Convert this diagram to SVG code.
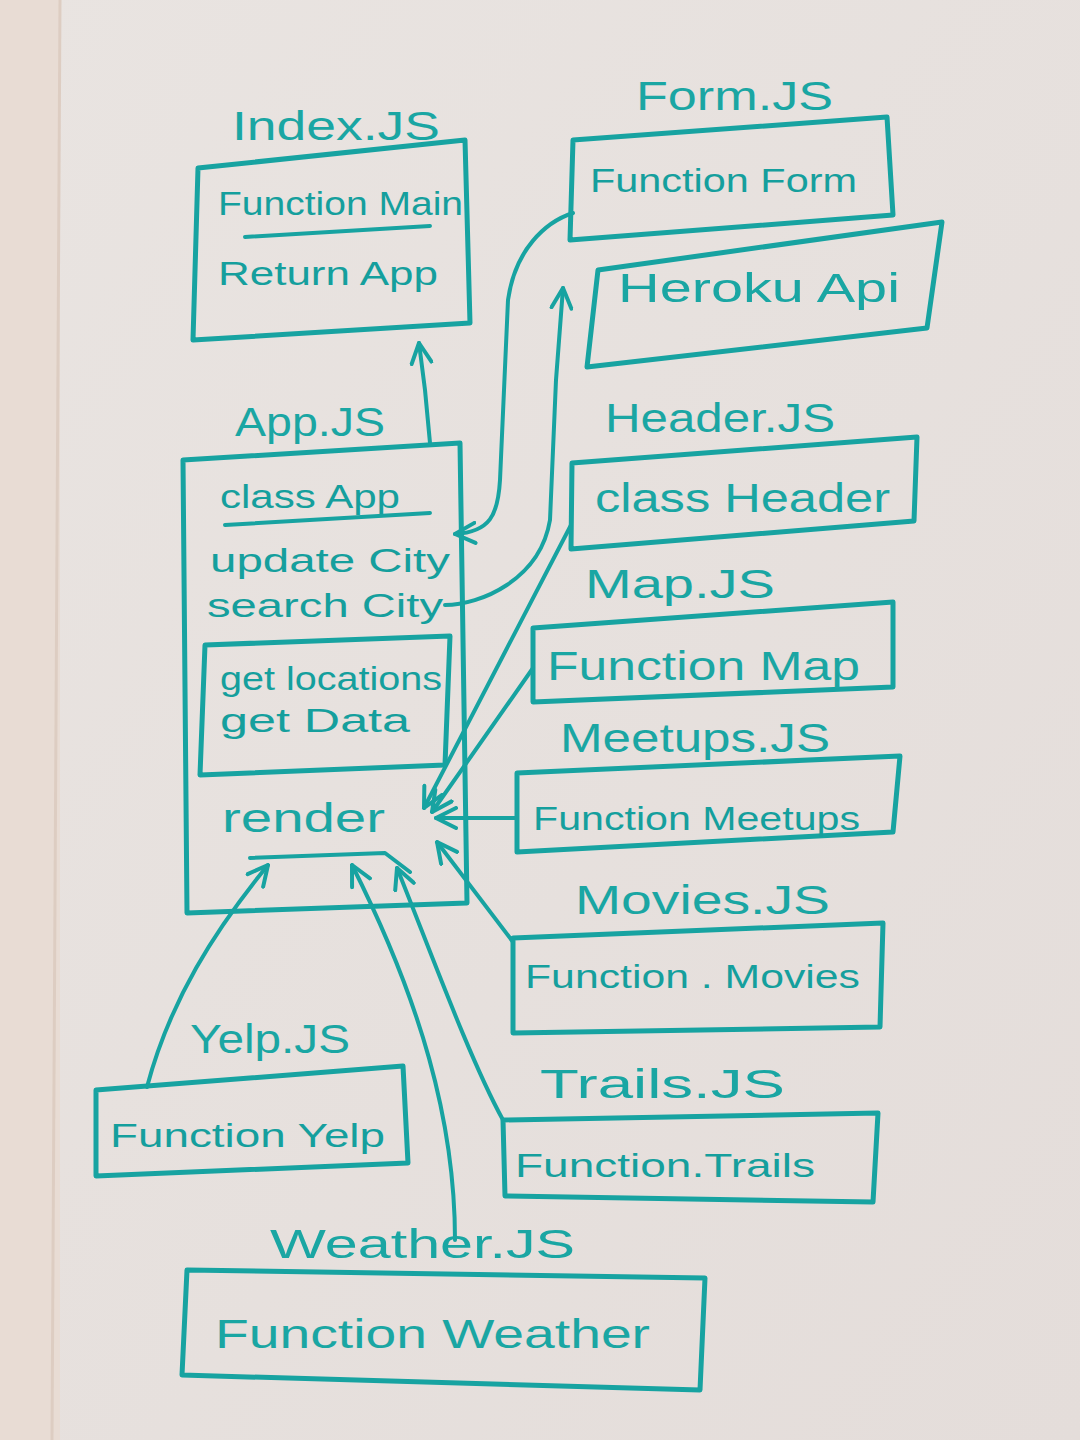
<svg xmlns="http://www.w3.org/2000/svg" width="1080" height="1440" viewBox="0 0 1080 1440">
<defs>
<marker id="arr" viewBox="0 0 12 12" refX="11" refY="6" markerWidth="24" markerHeight="24" markerUnits="userSpaceOnUse" orient="auto">
<path d="M1,1 L11,6 L1,11" fill="none" stroke="#17a3a1" stroke-width="2" stroke-linecap="round" stroke-linejoin="round"/>
</marker>
<linearGradient id="paper" x1="0" y1="0" x2="1" y2="1">
<stop offset="0" stop-color="#e9e4e1"/>
<stop offset="1" stop-color="#e4ddda"/>
</linearGradient>
</defs>
<style>
.box{fill:none;stroke:#17a3a1;stroke-width:5;stroke-linejoin:round;stroke-linecap:round}
.ln{fill:none;stroke:#17a3a1;stroke-width:4;stroke-linecap:round;stroke-linejoin:round}
.lbl{font-family:"Liberation Sans","DejaVu Sans",sans-serif;font-size:40px;fill:#1aa6a3}
.txt{font-family:"Liberation Sans","DejaVu Sans",sans-serif;font-size:34px;fill:#159f9d}
.con{fill:none;stroke:#17a3a1;stroke-width:4;stroke-linecap:round;stroke-linejoin:round;marker-end:url(#arr)}
</style>
<rect width="1080" height="1440" fill="url(#paper)"/>
<rect width="60" height="1440" fill="#e8dcd4"/>
<line x1="60" y1="0" x2="52" y2="1440" stroke="#ddcdc2" stroke-width="3"/>

<g id="connectors">
<path class="con" d="M430,443 L425,390 L419,343"/>
<path class="con" d="M573,213 C545,222 515,250 508,300 L500,480 C498,515 490,532 455,534"/>
<path class="con" d="M445,605 C480,605 540,580 550,520 L556,380 L563,288"/>
<path class="con" d="M571,525 L424,808"/>
<path class="con" d="M533,668 L432,812"/>
<path class="con" d="M517,818 L436,818"/>
<path class="con" d="M513,942 L437,842"/>
<path class="con" d="M503,1120 C470,1060 430,950 397,868"/>
<path class="con" d="M455,1240 C455,1120 420,1000 352,865"/>
<path class="con" d="M147,1087 C170,1000 215,930 268,865"/>
</g>

<g id="index">
<text class="lbl" x="232" y="140" textLength="208" lengthAdjust="spacingAndGlyphs">Index.JS</text>
<polygon class="box" points="198,168 465,140 470,323 193,340"/>
<text class="txt" x="218" y="215" textLength="245" lengthAdjust="spacingAndGlyphs">Function Main</text>
<line class="ln" x1="245" y1="237" x2="430" y2="226"/>
<text class="txt" x="218" y="285" textLength="220" lengthAdjust="spacingAndGlyphs">Return App</text>
</g>

<g id="form">
<text class="lbl" x="636" y="110" textLength="197" lengthAdjust="spacingAndGlyphs">Form.JS</text>
<polygon class="box" points="573,140 887,117 893,215 570,240"/>
<text class="txt" x="590" y="192" textLength="267" lengthAdjust="spacingAndGlyphs">Function Form</text>
</g>

<g id="heroku">
<polygon class="box" points="598,270 942,222 927,328 587,367"/>
<text class="lbl" x="618" y="302" textLength="282" lengthAdjust="spacingAndGlyphs">Heroku Api</text>
</g>

<g id="app">
<text class="lbl" x="235" y="436" textLength="150" lengthAdjust="spacingAndGlyphs">App.JS</text>
<polygon class="box" points="183,460 460,443 467,903 187,913"/>
<text class="txt" x="220" y="508" textLength="180" lengthAdjust="spacingAndGlyphs">class App</text>
<line class="ln" x1="225" y1="525" x2="430" y2="513"/>
<text class="txt" x="210" y="572" textLength="240" lengthAdjust="spacingAndGlyphs">update City</text>
<text class="txt" x="207" y="617" textLength="236" lengthAdjust="spacingAndGlyphs">search City</text>
<polygon class="box" points="205,645 450,636 445,765 200,775"/>
<text class="txt" x="220" y="690" textLength="222" lengthAdjust="spacingAndGlyphs">get locations</text>
<text class="txt" x="220" y="732" textLength="190" lengthAdjust="spacingAndGlyphs">get Data</text>
<text class="lbl" x="222" y="832" textLength="163" lengthAdjust="spacingAndGlyphs">render</text>
<polyline class="ln" points="250,858 385,853 410,872"/>
</g>

<g id="header">
<text class="lbl" x="605" y="432" textLength="230" lengthAdjust="spacingAndGlyphs">Header.JS</text>
<polygon class="box" points="572,463 917,437 914,521 571,549"/>
<text class="lbl" x="595" y="512" textLength="295" lengthAdjust="spacingAndGlyphs">class Header</text>
</g>

<g id="map">
<text class="lbl" x="585" y="598" textLength="190" lengthAdjust="spacingAndGlyphs">Map.JS</text>
<polygon class="box" points="533,628 893,602 893,687 533,702"/>
<text class="lbl" x="547" y="680" font-size="38" textLength="313" lengthAdjust="spacingAndGlyphs">Function Map</text>
</g>

<g id="meetups">
<text class="lbl" x="560" y="752" textLength="270" lengthAdjust="spacingAndGlyphs">Meetups.JS</text>
<polygon class="box" points="517,773 900,756 893,832 517,852"/>
<text class="txt" x="533" y="830" textLength="327" lengthAdjust="spacingAndGlyphs">Function Meetups</text>
</g>

<g id="movies">
<text class="lbl" x="575" y="914" textLength="255" lengthAdjust="spacingAndGlyphs">Movies.JS</text>
<polygon class="box" points="513,938 883,923 880,1027 513,1033"/>
<text class="txt" x="525" y="988" textLength="335" lengthAdjust="spacingAndGlyphs">Function . Movies</text>
</g>

<g id="trails">
<text class="lbl" x="540" y="1098" textLength="245" lengthAdjust="spacingAndGlyphs">Trails.JS</text>
<polygon class="box" points="503,1120 878,1113 873,1202 505,1196"/>
<text class="txt" x="515" y="1177" textLength="300" lengthAdjust="spacingAndGlyphs">Function.Trails</text>
</g>

<g id="yelp">
<text class="lbl" x="190" y="1053" textLength="160" lengthAdjust="spacingAndGlyphs">Yelp.JS</text>
<polygon class="box" points="96,1090 403,1066 408,1163 96,1176"/>
<text class="txt" x="110" y="1147" textLength="275" lengthAdjust="spacingAndGlyphs">Function Yelp</text>
</g>

<g id="weather">
<text class="lbl" x="270" y="1258" textLength="305" lengthAdjust="spacingAndGlyphs">Weather.JS</text>
<polygon class="box" points="187,1270 705,1278 700,1390 182,1375"/>
<text class="lbl" x="215" y="1348" font-size="50" textLength="435" lengthAdjust="spacingAndGlyphs">Function Weather</text>
</g>
</svg>
